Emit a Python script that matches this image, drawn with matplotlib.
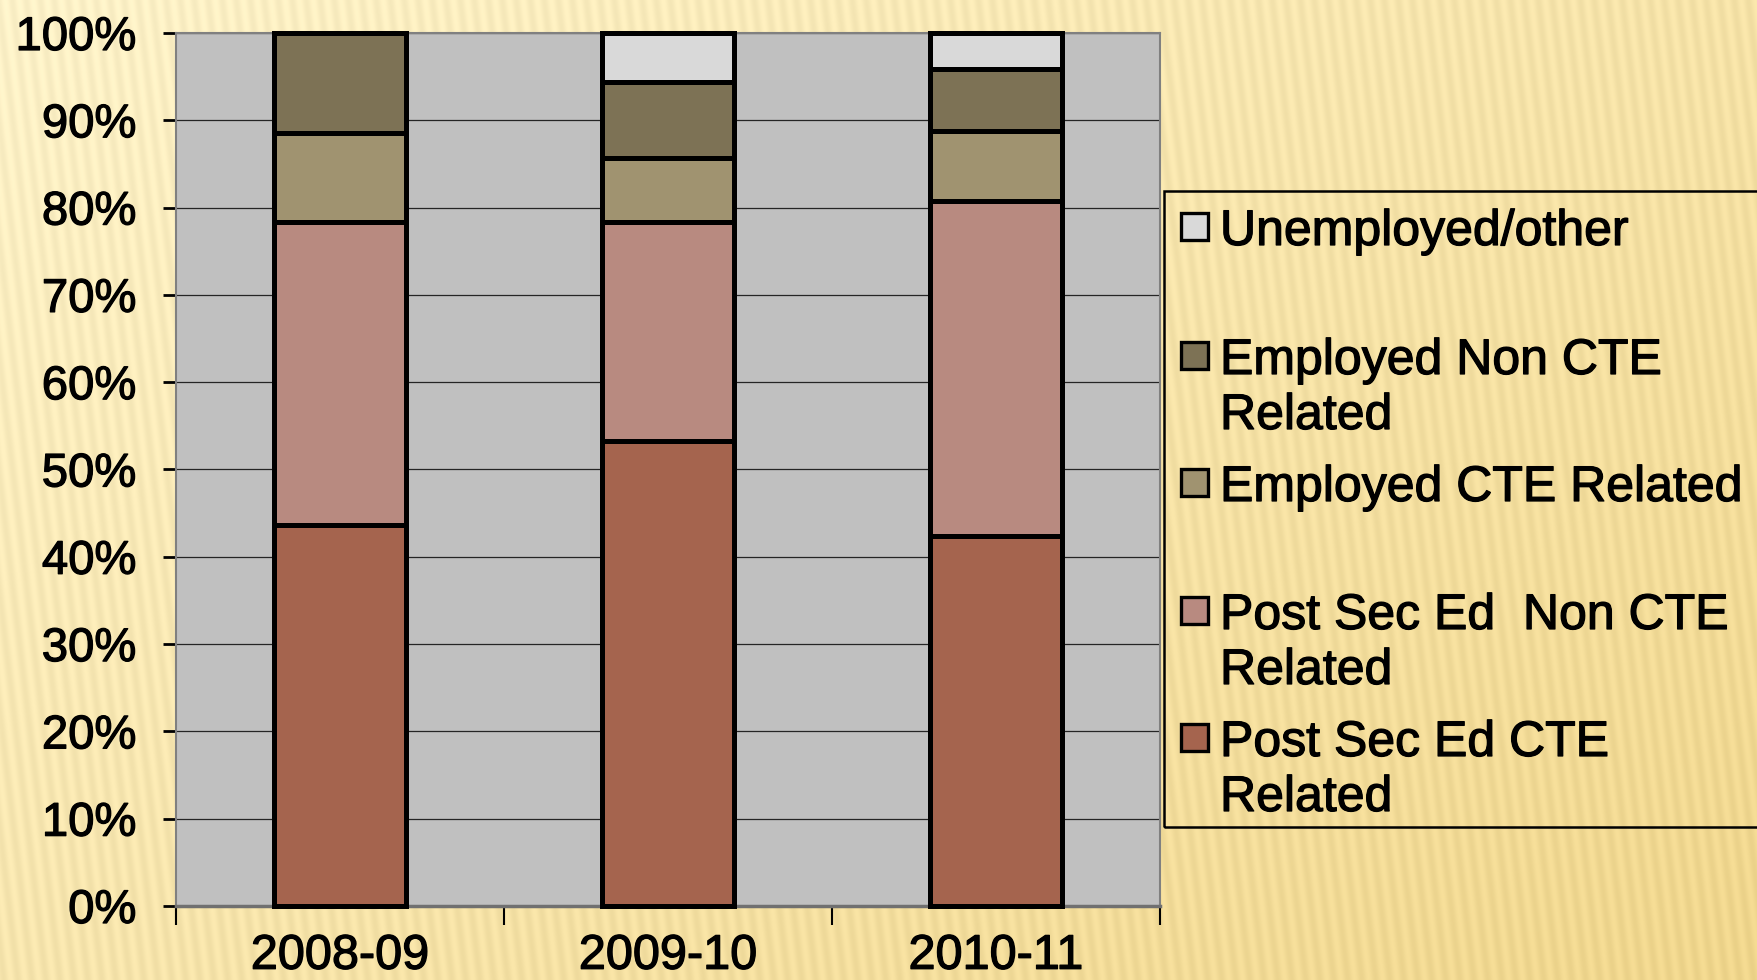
import numpy as np
import matplotlib.pyplot as plt
import matplotlib.patheffects as pe
from matplotlib.patches import Rectangle

years = ['2008-09', '2009-10', '2010-11']
series = ['Post Sec Ed CTE\nRelated', 'Post Sec Ed  Non CTE\nRelated',
          'Employed CTE Related', 'Employed Non CTE\nRelated', 'Unemployed/other']
ps_cte = [43.6, 53.3, 42.4]
ps_non = [34.7, 25.0, 38.4]
emp_cte = [10.3, 7.4, 8.0]
emp_non = [11.4, 8.7, 7.1]
unemp = [0.0, 5.6, 4.1]
colors = ['#A5644E', '#B88A80', '#A09370', '#7D7255', '#D9D9D9']

W, H = 1758, 980
fig = plt.figure(figsize=(W / 100, H / 100), dpi=100)
plt.rcParams['font.family'] = ['Liberation Sans', 'DejaVu Sans']
bolder = [pe.withStroke(linewidth=0.9, foreground='black')]

# cream background with faint stripes
yy, xx = np.mgrid[0:H, 0:W]
t = np.clip(0.55 * xx / W + 0.45 * yy / H, 0, 1)[..., None]
light = np.array([253, 242, 201]) / 255
dark = np.array([240, 214, 140]) / 255
bg = light * (1 - t) + dark * t
stripe = 0.022 * np.sin(2 * np.pi * (xx + 0.12 * (H - yy)) / 14.0)
bg = np.clip(bg - stripe[..., None], 0, 1)
fig.figimage(bg, xo=0, yo=0, origin='upper', zorder=-10)


def fx(px):
    return px / W


def fy(py):
    return 1 - py / H


ax = fig.add_axes([fx(176), fy(906), fx(1160) - fx(176), (906 - 33) / H])
ax.set_zorder(1)
ax.set_facecolor('#C0C0C0')

x = np.arange(len(years))
stack = [ps_cte, ps_non, emp_cte, emp_non, unemp]
bottom = np.zeros(len(years))
for vals, c in zip(stack, colors):
    ax.bar(x, vals, 0.4, bottom=bottom, color=c, edgecolor='black',
           linewidth=3.6, zorder=3, clip_on=False)
    bottom += np.array(vals)

ax.set_xlim(-0.5, 2.5)
ax.set_ylim(0, 100)
ax.set_yticks(np.arange(0, 101, 10))
ax.set_yticklabels([f'{v}%' for v in range(0, 101, 10)])
ax.yaxis.grid(True, color='#252525', linewidth=0.9, zorder=1)
ax.set_axisbelow(True)

ax.set_xticks(x)
ax.set_xticklabels(years)
ax.set_xticks([-0.5, 0.5, 1.5, 2.5], minor=True)
ax.tick_params(axis='x', which='major', length=0, pad=20, labelsize=35)
ax.tick_params(axis='x', which='minor', length=14, width=1.5, direction='out')
ax.tick_params(axis='y', length=9.5, width=2, direction='out', pad=19, labelsize=34)
for lbl in ax.get_xticklabels() + ax.get_yticklabels():
    lbl.set_path_effects(bolder)

for s in ['top', 'right', 'left']:
    ax.spines[s].set_color('#808080')
    ax.spines[s].set_linewidth(1.5)
ax.spines['bottom'].set_color('#707070')
ax.spines['bottom'].set_linewidth(2.5)

# legend drawn by hand, top entry is the top segment
frame = Rectangle((fx(1164), fy(827)), fx(1780) - fx(1164), (827 - 191) / H,
                  transform=fig.transFigure, facecolor='none', edgecolor='black',
                  linewidth=1.8, zorder=5)
fig.add_artist(frame)
rows = [227, 356, 483, 611, 738]
for lab, c, ry in zip(series[::-1], colors[::-1], rows):
    fig.add_artist(Rectangle((fx(1181), fy(ry + 13)), fx(27), 27 / H,
                             transform=fig.transFigure, facecolor=c,
                             edgecolor='black', linewidth=2.4, zorder=6))
    fig.text(fx(1220), fy(ry - 18), lab, fontsize=36, va='top', ha='left',
             linespacing=1.25, zorder=6, path_effects=bolder)

fig.savefig('out.png', dpi=100)
